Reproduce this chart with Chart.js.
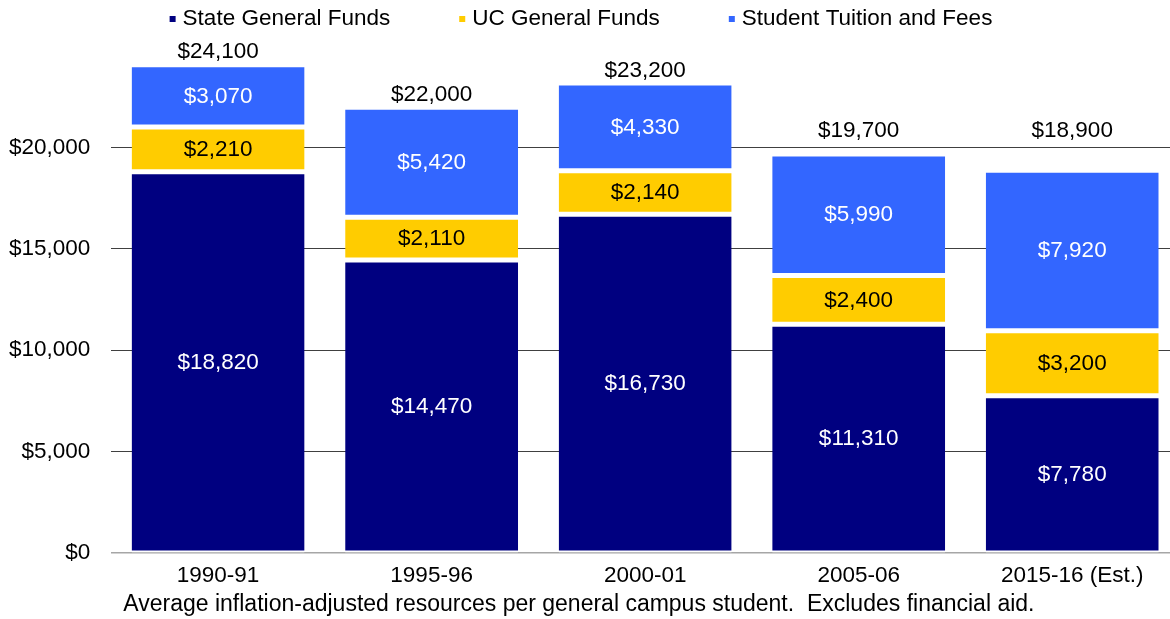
<!DOCTYPE html>
<html lang="en">
<head>
<meta charset="UTF-8">
<title>UC Resources per Student</title>
<script src="https://cdn.jsdelivr.net/npm/chart.js"></script>
<style>
    html, body {
        margin: 0;
        padding: 0;
        background: #fff;
        overflow: hidden;
    }

    .chart-box {
        width: 1180px;
        height: 619px;
        position: relative;
    }
</style>
</head>
<body>
<div class="chart-box"><canvas id="myChart"></canvas></div>

<script>
    // Data
    const years = ['1990-91', '1995-96', '2000-01', '2005-06', '2015-16 (Est.)'];
    const stateFunds = [18820, 14470, 16730, 11310, 7780];
    const ucFunds = [2210, 2110, 2140, 2400, 3200];
    const tuitionFees = [3070, 5420, 4330, 5990, 7920];
    const totals = [24100, 22000, 23200, 19700, 18900];
    const yTicks = [0, 5000, 10000, 15000, 20000];
    const footnote = 'Average inflation-adjusted resources per general campus student.  Excludes financial aid.';

    const FONT_FAMILY = "'Liberation Sans', Arial, Helvetica, sans-serif";
    const FONT_SIZE = 22.5;
    const FONT = FONT_SIZE + 'px ' + FONT_FAMILY;
    const money = v => '$' + v.toLocaleString('en-US');

    const segBorder = { top: 3, bottom: 2, left: 0, right: 0 };

    // Draws segment values, totals, legend and the footnote
    const labelPlugin = {
        id: 'labelPlugin',
        afterDatasetsDraw(chart) {
            const ctx = chart.ctx;
            const yScale = chart.scales.y;
            ctx.save();
            ctx.font = FONT;
            ctx.textAlign = 'center';
            ctx.textBaseline = 'middle';

            chart.data.datasets.forEach((ds, i) => {
                chart.getDatasetMeta(i).data.forEach((bar, j) => {
                    ctx.fillStyle = ds.labelColor;
                    ctx.fillText(money(ds.data[j]), bar.x, (bar.y + bar.base) / 2 + 1);
                });
            });

            // totals above the bars, kept clear of the $20,000 line
            const topMeta = chart.getDatasetMeta(chart.data.datasets.length - 1);
            const cap = yScale.getPixelForValue(20000) - 17;
            ctx.fillStyle = '#000';
            totals.forEach((t, j) => {
                const bar = topMeta.data[j];
                const ty = Math.min(yScale.getPixelForValue(t) - 12, cap);
                ctx.fillText(money(t), bar.x, ty);
            });
            ctx.restore();
        },
        afterDraw(chart) {
            const ctx = chart.ctx;
            ctx.save();
            ctx.font = FONT;
            ctx.textBaseline = 'middle';
            ctx.textAlign = 'left';

            // legend
            const box = 6, gapText = 7, gapItem = 69, ly = 19;
            const items = chart.data.datasets.map(ds => ({
                text: ds.label,
                color: ds.backgroundColor,
                w: ctx.measureText(ds.label).width
            }));
            let total = 0;
            items.forEach((it, i) => {
                total += box + gapText + it.w + (i ? gapItem : 0);
            });
            let x = 581 - total / 2;
            items.forEach(it => {
                ctx.fillStyle = it.color;
                ctx.fillRect(x, ly - box / 2, box, box);
                x += box + gapText;
                ctx.fillStyle = '#000';
                ctx.fillText(it.text, x, ly);
                x += it.w + gapItem;
            });

            // footnote
            ctx.font = '23px ' + FONT_FAMILY;
            ctx.fillStyle = '#000';
            ctx.fillText(footnote, chart.chartArea.left + 12, 605);
            ctx.restore();
        }
    };

    const ctx = document.getElementById('myChart').getContext('2d');
    const chart = new Chart(ctx, {
        type: 'bar',
        data: {
            labels: years,
            datasets: [
                {
                    label: 'State General Funds',
                    data: stateFunds,
                    backgroundColor: '#000080',
                    labelColor: '#fff'
                },
                {
                    label: 'UC General Funds',
                    data: ucFunds,
                    backgroundColor: '#FFCC00',
                    labelColor: '#000'
                },
                {
                    label: 'Student Tuition and Fees',
                    data: tuitionFees,
                    backgroundColor: '#3366FF',
                    labelColor: '#fff'
                }
            ].map(ds => Object.assign(ds, {
                borderColor: '#fff',
                borderWidth: segBorder,
                borderSkipped: false,
                barPercentage: 0.81,
                categoryPercentage: 1
            }))
        },
        options: {
            responsive: true,
            maintainAspectRatio: false,
            animation: false,
            layout: {
                padding: { top: 46, left: -12, right: 1, bottom: 29 }
            },
            plugins: {
                legend: { display: false },
                tooltip: { enabled: false }
            },
            scales: {
                x: {
                    stacked: true,
                    grid: { display: false },
                    border: { color: '#a6a6a6', width: 1.5 },
                    ticks: {
                        color: '#000',
                        font: { family: FONT_FAMILY, size: FONT_SIZE },
                        padding: 1,
                        maxRotation: 0
                    }
                },
                y: {
                    stacked: true,
                    min: 0,
                    max: 25000,
                    border: { display: false },
                    grid: {
                        color: c => c.tick && c.tick.value === 0 ? 'rgba(0,0,0,0)' : '#404040',
                        drawTicks: false,
                        lineWidth: 1
                    },
                    ticks: {
                        stepSize: 5000,
                        color: '#000',
                        font: { family: FONT_FAMILY, size: FONT_SIZE },
                        padding: 21,
                        callback: v => money(v)
                    },
                    afterBuildTicks: scale => {
                        scale.ticks = yTicks.map(v => ({ value: v }));
                    }
                }
            }
        },
        plugins: [labelPlugin]
    });
</script>
</body>
</html>
